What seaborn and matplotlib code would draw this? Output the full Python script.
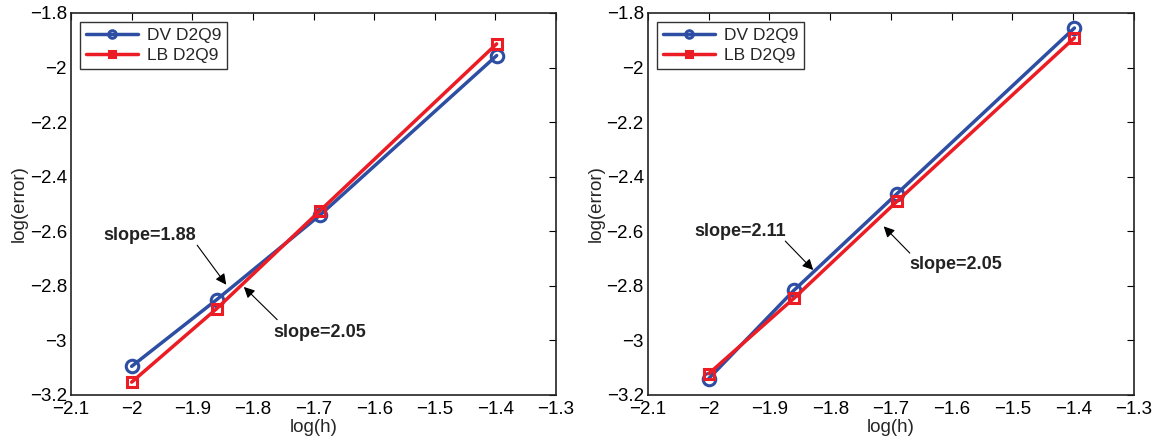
import numpy as np
import pandas as pd
import matplotlib
matplotlib.use("Agg")
import matplotlib.pyplot as plt
import seaborn as sns

# ---- data ----
log_h = [-2.0, -1.86, -1.69, -1.398]
left_dv = [-3.095, -2.851, -2.542, -1.956]
left_lb = [-3.153, -2.884, -2.526, -1.913]
right_dv = [-3.140, -2.817, -2.462, -1.855]
right_lb = [-3.122, -2.846, -2.490, -1.891]
series_names = ["DV D2Q9", "LB D2Q9"]
x_ticks = [-2.1, -2.0, -1.9, -1.8, -1.7, -1.6, -1.5, -1.4, -1.3]
y_ticks = [-3.2, -3.0, -2.8, -2.6, -2.4, -2.2, -2.0, -1.8]
left_notes = [("slope=1.88", (-1.970, -2.615), (-1.892, -2.651), (-1.844, -2.796)),
              ("slope=2.05", (-1.689, -2.971), (-1.760, -2.924), (-1.815, -2.804))]
right_notes = [("slope=2.11", (-1.949, -2.600), (-1.874, -2.636), (-1.828, -2.742)),
               ("slope=2.05", (-1.593, -2.720), (-1.669, -2.680), (-1.712, -2.582))]

sns.set_theme(style="white")
plt.rcParams['font.family'] = ['Liberation Sans', 'DejaVu Sans']
plt.rcParams['axes.unicode_minus'] = True

BLUE = "#2d4ea3"
RED = "#ec1c24"

fig = plt.figure(figsize=(11.59, 4.43), dpi=100)
ax1 = fig.add_axes([0.0613, 0.1084, 0.4185, 0.8623])
ax2 = fig.add_axes([0.5591, 0.1084, 0.4193, 0.8623])


def fmt(v):
    s = f"{v:.1f}".rstrip('0').rstrip('.')
    return s.replace('-', '\u2212')


def draw(ax, dv, lb, notes):
    df = pd.DataFrame({"log_h": log_h * 2,
                       "err": dv + lb,
                       "series": [series_names[0]] * 4 + [series_names[1]] * 4})
    d1 = df[df.series == series_names[0]]
    d2 = df[df.series == series_names[1]]
    sns.lineplot(data=d1, x="log_h", y="err", ax=ax, color=BLUE, linewidth=2.5,
                 marker='o', markersize=9, markerfacecolor='none',
                 markeredgecolor=BLUE, markeredgewidth=2.2, label=series_names[0])
    sns.lineplot(data=d2, x="log_h", y="err", ax=ax, color=RED, linewidth=2.5,
                 marker='s', markersize=7.5, markerfacecolor='none',
                 markeredgecolor=RED, markeredgewidth=2.2, label=series_names[1])
    ax.set_xlim(-2.1, -1.3)
    ax.set_ylim(-3.2, -1.8)
    ax.set_xticks(x_ticks)
    ax.set_yticks(y_ticks)
    ax.set_xticklabels([fmt(v) for v in x_ticks])
    ax.set_yticklabels([fmt(v) for v in y_ticks])
    ax.tick_params(direction='in', length=5, width=0.8, top=True, right=True,
                   labelsize=13.5, colors='black')
    ax.tick_params(axis='x', pad=4)
    ax.tick_params(axis='y', pad=3)
    for sp in ax.spines.values():
        sp.set_visible(True)
        sp.set_color('#222222')
        sp.set_linewidth(1.2)
    ax.set_xlabel("log(h)", fontsize=13.5, labelpad=1)
    ax.set_ylabel("log(error)", fontsize=13.5, labelpad=1)
    leg = ax.legend(loc='upper left', fontsize=12.5, frameon=True, fancybox=False,
                    borderaxespad=0.5, handlelength=3.0, borderpad=0.35,
                    labelspacing=0.3, handletextpad=0.5, markerscale=0.6)
    leg.get_frame().set_edgecolor('black')
    leg.get_frame().set_linewidth(1.0)
    for text, tpos, tail, head in notes:
        ax.text(tpos[0], tpos[1], text, fontsize=13, fontweight='bold',
                ha='center', va='center', color='#222222')
        ax.annotate("", xy=head, xytext=tail,
                    arrowprops=dict(arrowstyle='-|>', color='black', lw=0.8,
                                    mutation_scale=16, shrinkA=0, shrinkB=0))


draw(ax1, left_dv, left_lb, left_notes)
draw(ax2, right_dv, right_lb, right_notes)

fig.savefig("out.png", dpi=100)
